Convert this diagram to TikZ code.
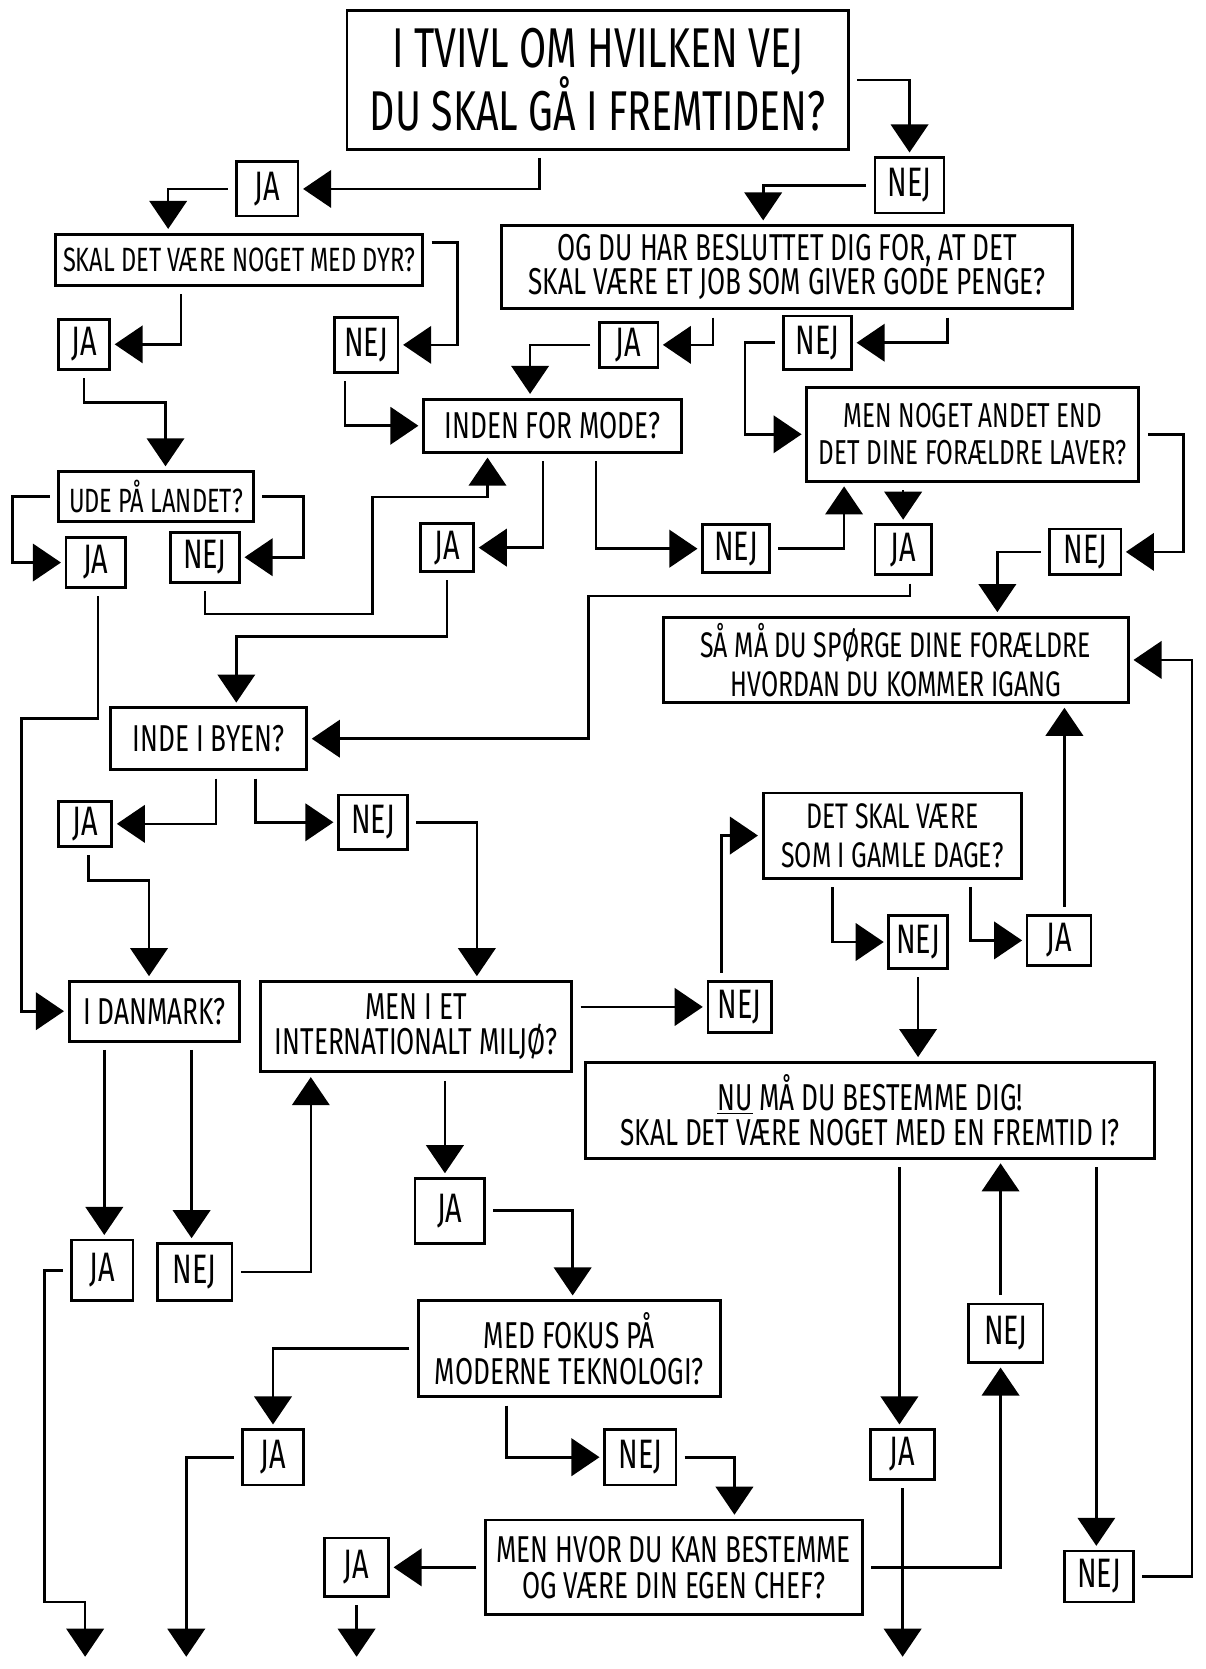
\documentclass[tikz,border=0pt]{standalone}
\usepackage{fontspec}
\setmainfont{Fira Sans}[FakeStretch=0.7]
\usetikzlibrary{positioning}
\usetikzlibrary{calc}
\usetikzlibrary{arrows.meta}

\newcommand{\upx}{0.02cm}

\tikzset{
  ques/.style={draw, line width=1.6pt, align=center, inner sep=0pt, font=\fontsize{20}{19}\selectfont},
  ans/.style={draw, line width=1.4pt, inner sep=0pt, font=\fontsize{22}{22}\selectfont},
  sz/.style 2 args={minimum width=#1*\upx, minimum height=#2*\upx},
  arr/.style={line width=1.4pt, -{Triangle[width=20pt,length=15pt]}, shorten <=4pt, shorten >=2pt},
}

\begin{document}
\begin{tikzpicture}[x=0.02cm,y=-0.02cm]
\useasboundingbox (0,0) rectangle (1133,1568);

% questions
\node[ques, sz={471}{130}, font=\fontsize{30}{31}\selectfont](title) at (561.5,75){I TVIVL OM HVILKEN VEJ\\DU SKAL GÅ I FREMTIDEN?};
\node[ques, sz={345}{48}, font=\fontsize{18}{18}\selectfont](dyr) at (224.5,244){SKAL DET VÆRE NOGET MED DYR?};
\node[ques, sz={537}{78}, font=\fontsize{20}{16}\selectfont](ogdu) at (739.5,251){OG DU HAR BESLUTTET DIG FOR, AT DET\\SKAL VÆRE ET JOB SOM GIVER GODE PENGE?};
\node[ques, sz={242}{50}](inden) at (519,400){INDEN FOR MODE?};
\node[ques, sz={312}{88}, font=\fontsize{18.5}{20}\selectfont](mennoget) at (914,408){MEN NOGET ANDET END\\DET DINE FORÆLDRE LAVER?};
\node[ques, sz={183}{47}, font=\fontsize{18}{18}\selectfont](ude) at (146.5,466.5){UDE PÅ LANDET?};
\node[ques, sz={437}{80}, font=\fontsize{19}{21}\selectfont](saama) at (841.5,620){SÅ MÅ DU SPØRGE DINE FORÆLDRE\\HVORDAN DU KOMMER IGANG};
\node[ques, sz={243}{80}, font=\fontsize{19}{21}\selectfont](detskal) at (838.5,785){DET SKAL VÆRE\\SOM I GAMLE DAGE?};
\node[ques, sz={184}{58}](byen) at (196,694){INDE I BYEN?};
\node[ques, sz={160}{56}](danmark) at (145,950){I DANMARK?};
\node[ques, sz={292}{85}](menimet) at (391,964.5){MEN I ET\\INTERNATIONALT MILJØ?};
\node[ques, sz={535}{90}](numaa) at (817.5,1043){\underline{NU} MÅ DU BESTEMME DIG!\\SKAL DET VÆRE NOGET MED EN FREMTID I?};
\node[ques, sz={284}{90}](medfokus) at (535,1267){MED FOKUS PÅ\\MODERNE TEKNOLOGI?};
\node[ques, sz={354}{89}](menhvor) at (633,1472.5){MEN HVOR DU KAN BESTEMME\\OG VÆRE DIN EGEN CHEF?};

% answers
\node[ans, sz={65}{52}](nej1) at (854.5,174){NEJ};
\node[ans, sz={58}{51}](ja1) at (251,177.5){JA};
\node[ans, sz={48}{47}](ja2) at (79,323.5){JA};
\node[ans, sz={60}{52}](nej2) at (344,324){NEJ};
\node[ans, sz={55}{42}](ja3) at (590.5,324){JA};
\node[ans, sz={64}{50}](nej3) at (768,322){NEJ};
\node[ans, sz={56}{47}](ja4) at (90,528.5){JA};
\node[ans, sz={65}{47}](nej4) at (192.5,523.5){NEJ};
\node[ans, sz={50}{45}](ja5) at (420,514.5){JA};
\node[ans, sz={63}{45}](nej5) at (691.5,515.5){NEJ};
\node[ans, sz={53}{47}](ja6) at (848.5,516.5){JA};
\node[ans, sz={67}{43}](nej6) at (1019.5,518.5){NEJ};
\node[ans, sz={50}{42}](ja7) at (80,774){JA};
\node[ans, sz={65}{51}](nej7) at (350.5,772.5){NEJ};
\node[ans, sz={55}{50}](nej9) at (862.5,885){NEJ};
\node[ans, sz={60}{47}](ja9) at (995,883.5){JA};
\node[ans, sz={60}{48}](nej8) at (695,946){NEJ};
\node[ans, sz={65}{61}](ja10) at (422.5,1137.5){JA};
\node[ans, sz={58}{57}](ja11) at (96,1193.5){JA};
\node[ans, sz={70}{54}](nej11) at (183,1195){NEJ};
\node[ans, sz={70}{55}](nej13) at (945,1252.5){NEJ};
\node[ans, sz={57}{52}](ja12) at (256.5,1369){JA};
\node[ans, sz={67}{52}](nej12) at (601.5,1369){NEJ};
\node[ans, sz={60}{47}](ja14) at (848,1366.5){JA};
\node[ans, sz={60}{55}](ja13) at (335,1472.5){JA};
\node[ans, sz={65}{48}](nej14) at (1032.5,1481){NEJ};

\coordinate (endA) at (80,1560);
\coordinate (endB) at (175,1560);
\coordinate (endC) at (335,1560);
\coordinate (endD) at (848,1560);

% connectors
\draw[arr] (title.east) -| (nej1.north);
\draw[arr] (nej1.west) -| (717,0 |- ogdu.north);
\draw[arr] (507,0 |- title.south) |- (ja1.east);
\draw[arr] (ja1.west) -| (158,0 |- dyr.north);
\draw[arr] (170,0 |- dyr.south) |- (ja2.east);
\draw[arr] ($(dyr.east)+(0,-16)$) -| (430,0 |- nej2.east) -- (nej2.east);
\draw[arr] (ja2.south) -- ++(0,30) -| ($(ude.north)+(9,0)$);
\draw[arr] (324,0 |- nej2.south) |- (inden.west);
\draw[arr] (670,0 |- ogdu.south) |- (ja3.east);
\draw[arr] (ja3.west) -| (498,0 |- inden.north);
\draw[arr] (890,0 |- ogdu.south) |- (nej3.east);
\draw[arr] (nej3.west) -- (700,0 |- nej3.west) |- (mennoget.west);
\draw[arr] (ude.west) -- (12,0 |- ude.west) |- (ja4.west);
\draw[arr] (ude.east) -- (285,0 |- ude.east) |- (nej4.east);
\draw[arr] (nej4.south) |- (350,577) -- (350,467) -| (458,0 |- inden.south);
\draw[arr] (510,0 |- inden.south) |- (ja5.east);
\draw[arr] (560,0 |- inden.south) |- (nej5.west);
\draw[arr] (nej5.east) -| (793,0 |- mennoget.south);
\draw[arr] (848.5,0 |- mennoget.south) -- (ja6.north);
\draw[arr] (mennoget.east) -- (1112,0 |- mennoget.east) |- (nej6.east);
\draw[arr] (nej6.west) -| (937,0 |- saama.north);
\draw[arr] (855,0 |- ja6.south) |- (553,560) |- (byen.east);
\draw[arr] (ja5.south) |- (222,598) -- (222,0 |- byen.north);
\draw[arr] (92,0 |- ja4.south) |- (20,675) |- (danmark.west);
\draw[arr] (203,0 |- byen.south) |- (ja7.east);
\draw[arr] (240,0 |- byen.south) |- (nej7.west);
\draw[arr] (83,0 |- ja7.south) |- (140,827) -- (140,0 |- danmark.north);
\draw[arr] (nej7.east) -| (448,0 |- menimet.north);
\draw[arr] (menimet.east |- nej8.west) -- (nej8.west);
\draw[arr] (678,0 |- nej8.north) |- (detskal.west);
\draw[arr] (782,0 |- detskal.south) |- (nej9.west);
\draw[arr] (912,0 |- detskal.south) |- (ja9.west);
\draw[arr] (1000,0 |- ja9.north) -- (1000,0 |- saama.south);
\draw[arr] (nej9.south) -- (nej9.south |- numaa.north);
\draw[arr] (418,0 |- menimet.south) -- (418,0 |- ja10.north);
\draw[arr] (ja10.east) -| (538,0 |- medfokus.north);
\draw[arr] (98,0 |- danmark.south) -- (98,0 |- ja11.north);
\draw[arr] (180,0 |- danmark.south) -- (180,0 |- nej11.north);
\draw[arr] (nej11.east) -| (292,0 |- menimet.south);
\draw[arr] (ja11.west) -- (42,0 |- ja11.west) |- (80,1505) -- (endA);
\draw[arr] (medfokus.west) -| (ja12.north);
\draw[arr] (ja12.west) -| (endB);
\draw[arr] (476,0 |- medfokus.south) |- (nej12.west);
\draw[arr] (nej12.east) -| (690,0 |- menhvor.north);
\draw[arr] (menhvor.west) -- (ja13.east);
\draw[arr] (ja13.south) -- (endC);
\draw[arr] (menhvor.east) -| (940,0 |- nej13.south);
\draw[arr] (940,0 |- nej13.north) -- (940,0 |- numaa.south);
\draw[arr] (845,0 |- numaa.south) -- (845,0 |- ja14.north);
\draw[arr] (ja14.south) -- (endD);
\draw[arr] (1030,0 |- numaa.south) -- (1030,0 |- nej14.north);
\draw[arr] (nej14.east) -- (1120,0 |- nej14.east) |- (saama.east);
\end{tikzpicture}
\end{document}
